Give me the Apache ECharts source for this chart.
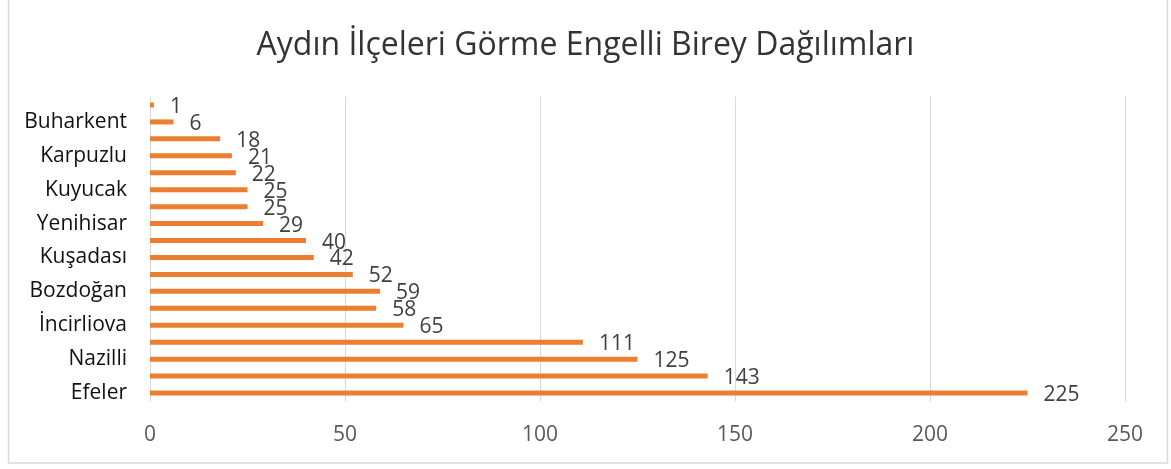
<!DOCTYPE html>
<html>
<head>
<meta charset="utf-8">
<script src="https://cdn.jsdelivr.net/npm/echarts@6/dist/echarts.min.js"></script>
<style>
  html, body { margin: 0; padding: 0; background: #fff; }
  #chart { width: 1171px; height: 469px; }
</style>
</head>
<body>
<div id="chart"></div>
<script>
/* ── Data (bottom to top) ─────────────────────────────────────────── */
const districts = [
    'Efeler', 'Söke', 'Nazilli', 'Didim', 'İncirliova', 'Çine',
    'Bozdoğan', 'Germencik', 'Kuşadası', 'Koçarlı', 'Yenihisar', 'Köşk',
    'Kuyucak', 'Sultanhisar', 'Karpuzlu', 'Karacasu', 'Buharkent', 'Yenipazar'
];
const counts = [225, 143, 125, 111, 65, 58, 59, 52, 42, 40, 29, 25, 25, 22, 21, 18, 6, 1];
const xTicks = [0, 50, 100, 150, 200, 250];

const FONT = '"Open Sans", "Noto Sans", sans-serif';

/* ── Chart ────────────────────────────────────────────────────────── */
const chart = echarts.init(document.getElementById('chart'));

chart.setOption({
    backgroundColor: '#fff',
    animation: false,
    title: {
        text: 'Aydın İlçeleri Görme Engelli Birey Dağılımları',
        left: 'center',
        top: 25,
        textStyle: { fontFamily: FONT, fontSize: 32, fontWeight: 'normal', color: '#333333' }
    },
    graphic: [{
        type: 'rect',
        shape: { x: 8.5, y: -2, width: 1159, height: 465 },
        style: { fill: 'none', stroke: '#d9d9d9', lineWidth: 1.5 },
        silent: true
    }],
    grid: { left: 150, right: 46, top: 96.5, bottom: 67.5, containLabel: false },
    xAxis: {
        type: 'value',
        min: xTicks[0],
        max: xTicks[xTicks.length - 1],
        interval: 50,
        axisLine: { show: false },
        axisTick: { show: false },
        splitLine: { lineStyle: { color: '#d9d9d9', width: 1 } },
        axisLabel: { fontFamily: FONT, fontSize: 21, color: '#595959', margin: 23 }
    },
    yAxis: {
        type: 'category',
        data: districts,
        axisLine: { show: false },
        axisTick: { show: false },
        axisLabel: { interval: 1, fontFamily: FONT, fontSize: 21, color: '#111111', margin: 23 }
    },
    series: [{
        type: 'bar',
        data: counts,
        barWidth: 5,
        itemStyle: { color: '#ED7D31' },
        label: {
            show: true,
            position: 'right',
            distance: 16,
            offset: [0, 2],
            fontFamily: FONT,
            fontSize: 21,
            color: '#404040'
        }
    }]
});
</script>
</body>
</html>
